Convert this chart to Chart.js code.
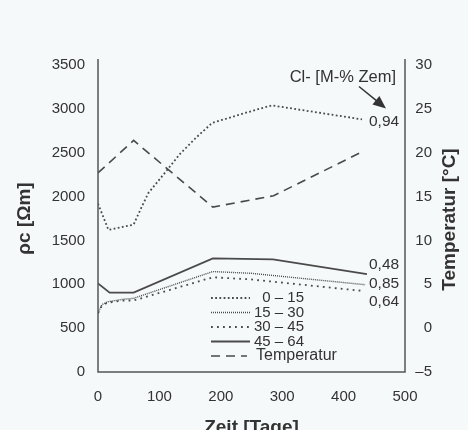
<!DOCTYPE html>
<html>
<head>
<meta charset="utf-8">
<title>Zeit - rho c</title>
<script src="https://cdn.jsdelivr.net/npm/chart.js@4.4.1/dist/chart.umd.min.js"></script>
<style>
    html, body { margin: 0; padding: 0; background: #f6f9f9; }
    #wrap { width: 468px; height: 430px; }
</style>
</head>
<body>
<div id="wrap"><canvas id="chart" width="468" height="430"></canvas></div>
<script>
// --- Data ---
const dayTicks = [0, 100, 200, 300, 400, 500];
const rhoTicks = [0, 500, 1000, 1500, 2000, 2500, 3000, 3500];
const tempTicks = [-5, 0, 5, 10, 15, 20, 25, 30];

const seriesLabels = ['0 – 15', '15 – 30', '30 – 45', '45 – 64', 'Temperatur'];
const clLabels = ['0,94', '0,85', '0,64', '0,48'];

const days0to15 = [0, 17, 58, 69, 82, 110, 134, 161, 186, 243, 283, 430];
const rho0to15 = [1920, 1620, 1680, 1850, 2040, 2280, 2490, 2680, 2840, 2960, 3040, 2880];

const days15to30 = [0, 6, 15, 42, 58, 187, 250, 435];
const rho15to30 = [670, 765, 800, 830, 840, 1145, 1125, 995];

const days30to45 = [0, 6, 15, 42, 58, 187, 250, 430];
const rho30to45 = [670, 750, 790, 815, 815, 1080, 1055, 925];

const days45to64 = [0, 19, 58, 187, 285, 438];
const rho45to64 = [1010, 905, 905, 1295, 1285, 1115];

const daysTemp = [0, 58, 187, 286, 430];
const tempC = [17.7, 21.4, 13.8, 15.1, 20.1];

document.addEventListener('DOMContentLoaded', () => {
    const FONT = "'Liberation Sans', Arial, Helvetica, sans-serif";
    const TEXT = '#333';
    const INK = '#4a4a4a';

    Chart.defaults.font.family = FONT;
    Chart.defaults.color = TEXT;

    const pts = (xs, ys) => xs.map((x, i) => ({ x: x, y: ys[i] }));

    // --- 1. Datasets ---
    const datasets = [
        { label: seriesLabels[0], data: pts(days0to15, rho0to15), yAxisID: 'y', borderDash: [1.8, 2.4], borderWidth: 1.8 },
        { label: seriesLabels[1], data: pts(days15to30, rho15to30), yAxisID: 'y', borderDash: [1, 1], borderWidth: 1.4 },
        { label: seriesLabels[2], data: pts(days30to45, rho30to45), yAxisID: 'y', borderDash: [1.8, 4.2], borderWidth: 1.8 },
        { label: seriesLabels[3], data: pts(days45to64, rho45to64), yAxisID: 'y', borderDash: [], borderWidth: 1.8 },
        { label: seriesLabels[4], data: pts(daysTemp, tempC), yAxisID: 'y1', borderDash: [9, 6], borderWidth: 1.6 }
    ].map(d => Object.assign(d, { borderColor: INK, pointRadius: 0, fill: false, tension: 0 }));

    // --- 2. Plugins: background, frame, legend, notes ---
    const background = {
        id: 'background',
        beforeDraw(chart) {
            const ctx = chart.ctx;
            ctx.save();
            ctx.fillStyle = '#f6f9f9';
            ctx.fillRect(0, 0, chart.width, chart.height);
            ctx.restore();
        }
    };

    const frame = {
        id: 'frame',
        afterDatasetsDraw(chart) {
            const { ctx, chartArea: a } = chart;
            ctx.save();
            ctx.strokeStyle = '#555';
            ctx.lineWidth = 1.5;
            ctx.beginPath();
            ctx.moveTo(a.left, a.top - 6);
            ctx.lineTo(a.left, a.bottom);
            ctx.lineTo(a.right, a.bottom);
            ctx.lineTo(a.right, a.top - 6);
            ctx.stroke();
            ctx.restore();
        }
    };

    const legendBox = {
        id: 'legendBox',
        afterDraw(chart) {
            const ctx = chart.ctx;
            ctx.save();
            ctx.fillStyle = TEXT;
            ctx.textBaseline = 'middle';
            chart.data.datasets.forEach((ds, i) => {
                const y = 298 + i * 14.5;
                const isTemp = i === 4;
                ctx.strokeStyle = ds.borderColor;
                ctx.lineWidth = ds.borderWidth;
                ctx.setLineDash(ds.borderDash);
                ctx.beginPath();
                ctx.moveTo(211, y);
                ctx.lineTo(isTemp ? 247 : 250, y);
                ctx.stroke();
                ctx.setLineDash([]);
                ctx.font = (isTemp ? '16px ' : '15px ') + FONT;
                ctx.textAlign = isTemp ? 'left' : 'right';
                ctx.fillText(ds.label, isTemp ? 256 : 304, y);
            });
            ctx.restore();
        }
    };

    const notes = {
        id: 'notes',
        afterDraw(chart) {
            const ctx = chart.ctx;
            const yScale = chart.scales.y;
            const nudge = [2, -1, 11, -9];
            ctx.save();
            ctx.font = '15.5px ' + FONT;
            ctx.fillStyle = TEXT;
            ctx.textBaseline = 'middle';
            ctx.textAlign = 'left';
            clLabels.forEach((txt, i) => {
                const d = chart.data.datasets[i].data;
                const y = yScale.getPixelForValue(d[d.length - 1].y) + nudge[i];
                ctx.fillText(txt, 369, y);
            });

            // Cl- caption with arrow
            ctx.font = '16.5px ' + FONT;
            ctx.textAlign = 'right';
            ctx.fillText('Cl- [M-% Zem]', 396, 77);
            const x0 = 359, y0 = 86.5, x1 = 386, y1 = 108.5;
            const ang = Math.atan2(y1 - y0, x1 - x0);
            ctx.strokeStyle = '#333';
            ctx.lineWidth = 1.5;
            ctx.beginPath();
            ctx.moveTo(x0, y0);
            ctx.lineTo(x1 - 10 * Math.cos(ang), y1 - 10 * Math.sin(ang));
            ctx.stroke();
            ctx.fillStyle = '#333';
            ctx.beginPath();
            ctx.moveTo(x1, y1);
            ctx.lineTo(x1 - 13 * Math.cos(ang) + 5.5 * Math.sin(ang), y1 - 13 * Math.sin(ang) - 5.5 * Math.cos(ang));
            ctx.lineTo(x1 - 13 * Math.cos(ang) - 5.5 * Math.sin(ang), y1 - 13 * Math.sin(ang) + 5.5 * Math.cos(ang));
            ctx.closePath();
            ctx.fill();

            // right axis title reads bottom-to-top, like the left one
            const a = chart.chartArea;
            ctx.translate(450, (a.top + a.bottom) / 2 + 1);
            ctx.rotate(-Math.PI / 2);
            ctx.font = 'bold 19px ' + FONT;
            ctx.textAlign = 'center';
            ctx.fillText('Temperatur [°C]', 0, 0);
            ctx.restore();
        }
    };

    // --- 3. Chart ---
    const tickFont = { size: 15 };
    const titleFont = { size: 19, weight: 'bold', lineHeight: 1 };

    new Chart(document.getElementById('chart'), {
        type: 'line',
        data: { datasets: datasets },
        options: {
            responsive: false,
            animation: false,
            // right padding keeps the right tick labels right-aligned at x = 432
            layout: { padding: { top: 65, left: 0, right: 36, bottom: 0 } },
            plugins: { legend: { display: false }, tooltip: { enabled: false } },
            scales: {
                x: {
                    type: 'linear',
                    min: 0,
                    max: 500,
                    afterBuildTicks: s => { s.ticks = dayTicks.map(v => ({ value: v })); },
                    afterFit: s => { s.height = 58; },
                    ticks: { font: tickFont, color: TEXT, padding: 16, callback: v => String(v) },
                    grid: { display: false, drawTicks: false },
                    border: { display: false },
                    title: { display: true, text: 'Zeit [Tage]', font: titleFont, color: TEXT, padding: { top: 0, bottom: -7 } }
                },
                y: {
                    position: 'left',
                    min: 0,
                    max: 3500,
                    afterBuildTicks: s => { s.ticks = rhoTicks.map(v => ({ value: v })); },
                    afterFit: s => { s.width = 98; },
                    ticks: { font: tickFont, color: TEXT, padding: 13, callback: v => String(v) },
                    grid: { display: false, drawTicks: false },
                    border: { display: false },
                    title: { display: true, text: 'ρc [Ωm]', font: titleFont, color: TEXT, padding: { top: 15.5, bottom: 0 } }
                },
                y1: {
                    position: 'right',
                    min: -5,
                    max: 30,
                    afterBuildTicks: s => { s.ticks = tempTicks.map(v => ({ value: v })); },
                    afterFit: s => { s.width = 27; },
                    ticks: {
                        font: tickFont,
                        color: TEXT,
                        padding: 11,
                        crossAlign: 'far',
                        callback: v => (v < 0 ? '–' + Math.abs(v) : String(v))
                    },
                    grid: { display: false, drawTicks: false },
                    border: { display: false },
                    title: { display: false }
                }
            }
        },
        plugins: [background, frame, legendBox, notes]
    });
});
</script>
</body>
</html>
